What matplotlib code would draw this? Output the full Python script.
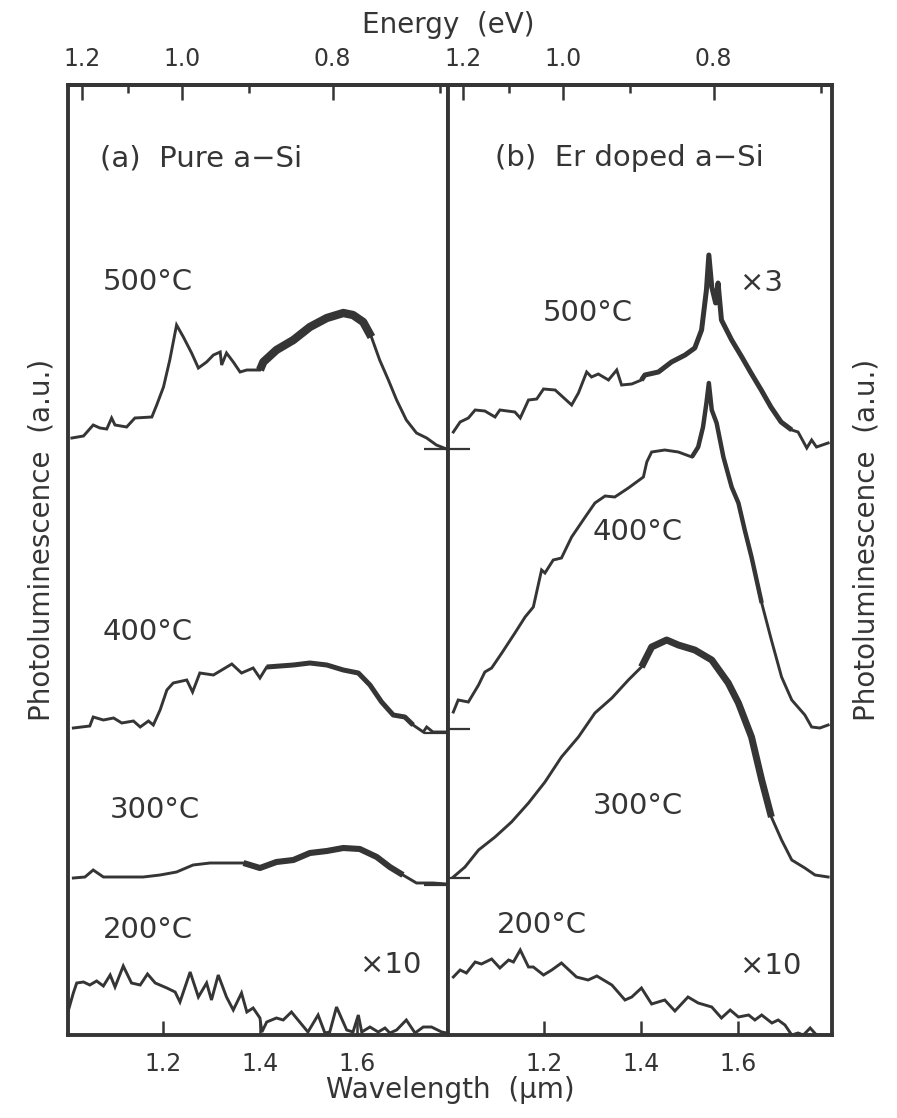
import matplotlib

matplotlib.use('Agg')
import matplotlib.pyplot as plt
import numpy as np

matplotlib.rcParams['figure.dpi'] = 100
matplotlib.rcParams['savefig.dpi'] = 100
matplotlib.rcParams['font.family'] = 'DejaVu Sans'

INK = '#353535'

# wavelength (um) and PL signal (a.u., curves stacked with offsets)
# (a) pure a-Si
a500_wl = [1.012, 1.036, 1.056, 1.070, 1.084, 1.094, 1.101, 1.125, 1.142, 1.177, 1.187, 1.201, 1.214,
           1.228, 1.242, 1.259, 1.273, 1.290, 1.304, 1.318, 1.321, 1.331, 1.345, 1.359, 1.373, 1.400,
           1.407, 1.434, 1.469, 1.503, 1.538, 1.572, 1.592, 1.613, 1.630, 1.647, 1.665, 1.682, 1.702,
           1.723, 1.744, 1.764, 1.785]
a500_pl = [5.97, 5.99, 6.10, 6.07, 6.06, 6.17, 6.10, 6.08, 6.17, 6.18, 6.30, 6.48, 6.75,
           7.10, 6.98, 6.82, 6.67, 6.73, 6.80, 6.83, 6.70, 6.82, 6.73, 6.63, 6.65, 6.65,
           6.73, 6.85, 6.95, 7.08, 7.17, 7.22, 7.20, 7.13, 6.98, 6.75, 6.55, 6.35, 6.15,
           6.02, 5.97, 5.90, 5.86]

a400_wl = [1.015, 1.049, 1.056, 1.077, 1.098, 1.115, 1.139, 1.153, 1.170, 1.180, 1.194, 1.208, 1.221,
           1.249, 1.261, 1.276, 1.304, 1.342, 1.362, 1.386, 1.400, 1.414, 1.469, 1.503, 1.538, 1.572,
           1.603, 1.627, 1.651, 1.675, 1.699, 1.716, 1.737, 1.744, 1.757, 1.785]
a400_pl = [3.07, 3.09, 3.18, 3.15, 3.17, 3.12, 3.14, 3.08, 3.14, 3.10, 3.25, 3.45, 3.52,
           3.55, 3.43, 3.62, 3.60, 3.71, 3.62, 3.67, 3.57, 3.68, 3.70, 3.72, 3.70, 3.65,
           3.62, 3.50, 3.33, 3.20, 3.18, 3.10, 3.03, 3.08, 3.03, 3.03]

a300_wl = [1.015, 1.039, 1.056, 1.077, 1.125, 1.159, 1.194, 1.228, 1.262, 1.297, 1.331, 1.366, 1.400,
           1.434, 1.469, 1.503, 1.538, 1.572, 1.606, 1.641, 1.668, 1.695, 1.723, 1.757, 1.785]
a300_pl = [1.57, 1.58, 1.65, 1.58, 1.58, 1.58, 1.60, 1.63, 1.70, 1.72, 1.72, 1.72, 1.67,
           1.73, 1.75, 1.82, 1.84, 1.87, 1.86, 1.78, 1.68, 1.60, 1.52, 1.52, 1.51]

a200_wl = [1.005, 1.015, 1.022, 1.036, 1.049, 1.063, 1.077, 1.091, 1.101, 1.118, 1.135, 1.153, 1.168,
           1.184, 1.208, 1.225, 1.235, 1.256, 1.273, 1.290, 1.300, 1.314, 1.331, 1.345, 1.362,
           1.373, 1.386, 1.400, 1.404, 1.414, 1.434, 1.448, 1.465, 1.482, 1.499, 1.520, 1.534,
           1.544, 1.558, 1.579, 1.592, 1.603, 1.610, 1.627, 1.644, 1.658, 1.668, 1.682, 1.702,
           1.720, 1.737, 1.754, 1.775, 1.785]
a200_pl = [0.25, 0.42, 0.52, 0.53, 0.50, 0.54, 0.49, 0.60, 0.48, 0.69, 0.52, 0.50, 0.61,
           0.52, 0.47, 0.43, 0.33, 0.63, 0.38, 0.52, 0.35, 0.60, 0.38, 0.25, 0.42,
           0.23, 0.27, 0.17, 0.03, 0.13, 0.17, 0.15, 0.23, 0.13, 0.03, 0.20, 0.02,
           0.03, 0.28, 0.05, 0.03, 0.20, 0.03, 0.08, 0.03, 0.07, 0.02, 0.05, 0.15,
           0.02, 0.08, 0.08, 0.03, 0.02]

# (b) Er doped a-Si
b500_wl = [1.013, 1.027, 1.044, 1.058, 1.078, 1.099, 1.109, 1.140, 1.151, 1.168, 1.185, 1.199, 1.223,
           1.257, 1.271, 1.288, 1.298, 1.312, 1.333, 1.350, 1.360, 1.381, 1.401, 1.408, 1.436, 1.463,
           1.491, 1.511, 1.525, 1.535, 1.540, 1.546, 1.554, 1.559, 1.566, 1.587, 1.608, 1.627, 1.648,
           1.668, 1.689, 1.711, 1.724, 1.742, 1.752, 1.762, 1.786]
b500_pl = [6.03, 6.13, 6.17, 6.25, 6.24, 6.18, 6.25, 6.23, 6.17, 6.35, 6.36, 6.46, 6.45,
           6.30, 6.42, 6.63, 6.58, 6.61, 6.55, 6.65, 6.50, 6.51, 6.55, 6.60, 6.63, 6.73,
           6.80, 6.87, 7.05, 7.45, 7.80, 7.48, 7.32, 7.52, 7.15, 6.95, 6.78, 6.62, 6.45,
           6.28, 6.13, 6.05, 6.03, 5.87, 5.95, 5.88, 5.92]

b400_wl = [1.013, 1.023, 1.044, 1.065, 1.078, 1.092, 1.113, 1.140, 1.161, 1.178, 1.195, 1.202, 1.219,
           1.236, 1.257, 1.285, 1.305, 1.326, 1.346, 1.374, 1.405, 1.412, 1.422, 1.449, 1.477, 1.505,
           1.518, 1.528, 1.535, 1.540, 1.546, 1.556, 1.570, 1.587, 1.601, 1.614, 1.628, 1.649, 1.669,
           1.690, 1.711, 1.738, 1.752, 1.769, 1.786]
b400_pl = [3.23, 3.35, 3.33, 3.50, 3.63, 3.67, 3.82, 4.02, 4.18, 4.28, 4.65, 4.62, 4.75,
           4.77, 4.98, 5.18, 5.32, 5.39, 5.38, 5.47, 5.58, 5.73, 5.83, 5.85, 5.83, 5.78,
           5.88, 6.08, 6.32, 6.52, 6.25, 6.12, 5.78, 5.48, 5.32, 5.05, 4.78, 4.32, 3.95,
           3.58, 3.35, 3.20, 3.08, 3.07, 3.10]

b300_wl = [1.013, 1.037, 1.065, 1.099, 1.133, 1.168, 1.202, 1.236, 1.271, 1.305, 1.340, 1.374, 1.401,
           1.422, 1.453, 1.477, 1.511, 1.546, 1.580, 1.601, 1.628, 1.649, 1.669, 1.690, 1.711, 1.738,
           1.759, 1.786]
b300_pl = [1.58, 1.68, 1.85, 1.98, 2.13, 2.32, 2.53, 2.78, 2.98, 3.22, 3.37, 3.55, 3.68,
           3.88, 3.95, 3.90, 3.85, 3.75, 3.52, 3.32, 2.98, 2.55, 2.18, 1.95, 1.75, 1.67,
           1.60, 1.58]

b200_wl = [1.013, 1.027, 1.040, 1.058, 1.071, 1.092, 1.109, 1.127, 1.137, 1.151, 1.168, 1.178, 1.199,
           1.216, 1.236, 1.267, 1.291, 1.309, 1.340, 1.367, 1.381, 1.401, 1.422, 1.449, 1.470, 1.497,
           1.518, 1.546, 1.566, 1.584, 1.601, 1.622, 1.635, 1.649, 1.670, 1.683, 1.697, 1.711, 1.724,
           1.735, 1.749, 1.762, 1.786]
b200_pl = [0.58, 0.65, 0.62, 0.73, 0.71, 0.76, 0.67, 0.75, 0.73, 0.85, 0.68, 0.68, 0.60,
           0.65, 0.72, 0.58, 0.55, 0.59, 0.50, 0.35, 0.38, 0.47, 0.31, 0.35, 0.24, 0.38,
           0.32, 0.28, 0.17, 0.25, 0.18, 0.20, 0.15, 0.20, 0.12, 0.15, 0.10, 0.00, 0.02,
           0.00, 0.07, 0.00, 0.00]

# zero lines of the stacked curves, marked on the shared middle axis
a_baselines = [5.86, 3.02, 1.50]
b_baselines = [5.86, 3.06, 1.57]

wl_ticks = [1.2, 1.4, 1.6]
ev_major = [1.2, 1.0, 0.8]
ev_minor = [1.1, 0.9, 0.7]


def ev2wl(e):
    e = np.asarray(e, dtype=float)
    return 1.24 / np.where(e == 0, 1e-9, e)


def draw_curve(ax, wl, pl, noisy=None):
    wl = np.asarray(wl)
    pl = np.asarray(pl)
    ax.plot(wl, pl, color=INK, lw=2.1, solid_joinstyle='miter')
    # thick band where the measured trace is noisy
    if noisy is not None:
        lo, hi, lw = noisy
        m = (wl >= lo) & (wl <= hi)
        ax.plot(wl[m], pl[m], color=INK, lw=lw, solid_capstyle='butt')


def style_axis(ax, xlim, baselines, side):
    ax.set_xlim(xlim)
    ax.set_ylim(0, 9.5)
    for s in ax.spines.values():
        s.set_linewidth(2.8)
        s.set_color(INK)
    ax.set_xticks(wl_ticks)
    ax.set_xticklabels(['%.1f' % t for t in wl_ticks])
    ax.tick_params(axis='x', direction='in', length=10, width=1.8, color=INK,
                   labelsize=17, labelcolor=INK, pad=12)
    ax.set_yticks(baselines)
    ax.set_yticklabels([])
    if side == 'right':
        ax.tick_params(axis='y', left=False, right=True, direction='in', length=17, width=1.6, color=INK)
    else:
        ax.tick_params(axis='y', left=True, right=False, direction='in', length=16, width=1.6, color=INK)
    top = ax.secondary_xaxis('top', functions=(ev2wl, ev2wl))
    top.set_xticks(ev_major)
    top.set_xticklabels(['%.1f' % t for t in ev_major])
    top.set_xticks(ev_minor, minor=True)
    top.tick_params(axis='x', which='major', direction='in', length=11, width=1.8, color=INK,
                    labelsize=17, labelcolor=INK, pad=10)
    top.tick_params(axis='x', which='minor', direction='in', length=6, width=1.8, color=INK)
    top.spines['top'].set_linewidth(2.8)
    top.spines['top'].set_color(INK)


def main():
    fig = plt.figure(figsize=(8.97, 11.18))
    ax_a = fig.add_axes([68 / 897, 83 / 1118, 380 / 897, 950 / 1118])
    ax_b = fig.add_axes([448 / 897, 83 / 1118, 384 / 897, 950 / 1118])

    draw_curve(ax_a, a500_wl, a500_pl, (1.40, 1.64, 6.0))
    draw_curve(ax_a, a400_wl, a400_pl, (1.41, 1.72, 3.6))
    draw_curve(ax_a, a300_wl, a300_pl, (1.36, 1.70, 4.4))
    draw_curve(ax_a, a200_wl, a200_pl)
    style_axis(ax_a, (1.004, 1.788), a_baselines, 'right')

    draw_curve(ax_b, b500_wl, b500_pl, (1.40, 1.72, 3.6))
    draw_curve(ax_b, b400_wl, b400_pl, (1.50, 1.66, 3.2))
    draw_curve(ax_b, b300_wl, b300_pl, (1.40, 1.67, 5.0))
    draw_curve(ax_b, b200_wl, b200_pl)
    style_axis(ax_b, (1.002, 1.794), b_baselines, 'left')

    fs = 21
    txt = dict(fontsize=fs, color=INK, ha='left', va='center')
    ax_a.text(1.070, 8.77, '(a)  Pure a\u2212Si', **txt)
    ax_a.text(1.076, 7.53, '500\u00b0C', **txt)
    ax_a.text(1.076, 4.03, '400\u00b0C', **txt)
    ax_a.text(1.090, 2.25, '300\u00b0C', **txt)
    ax_a.text(1.076, 1.05, '200\u00b0C', **txt)
    ax_a.text(1.606, 0.70, '\u00d710', **txt)

    ax_b.text(1.099, 8.77, '(b)  Er doped a\u2212Si', **txt)
    ax_b.text(1.198, 7.22, '500\u00b0C', **txt)
    ax_b.text(1.604, 7.52, '\u00d73', **txt)
    ax_b.text(1.301, 5.03, '400\u00b0C', **txt)
    ax_b.text(1.301, 2.29, '300\u00b0C', **txt)
    ax_b.text(1.103, 1.10, '200\u00b0C', **txt)
    ax_b.text(1.604, 0.69, '\u00d710', **txt)

    lab = dict(fontsize=20, color=INK, ha='center', va='center')
    fig.text(448 / 897, 1 - 25 / 1118, 'Energy  (eV)', **lab)
    fig.text(450 / 897, 1 - 1090 / 1118, 'Wavelength  (\u03bcm)', **lab)
    fig.text(42 / 897, 1 - 540 / 1118, 'Photoluminescence  (a.u.)', rotation=90, **lab)
    fig.text(866 / 897, 1 - 540 / 1118, 'Photoluminescence  (a.u.)', rotation=90, **lab)

    fig.savefig('out.png', facecolor='white')


if __name__ == '__main__':
    main()
